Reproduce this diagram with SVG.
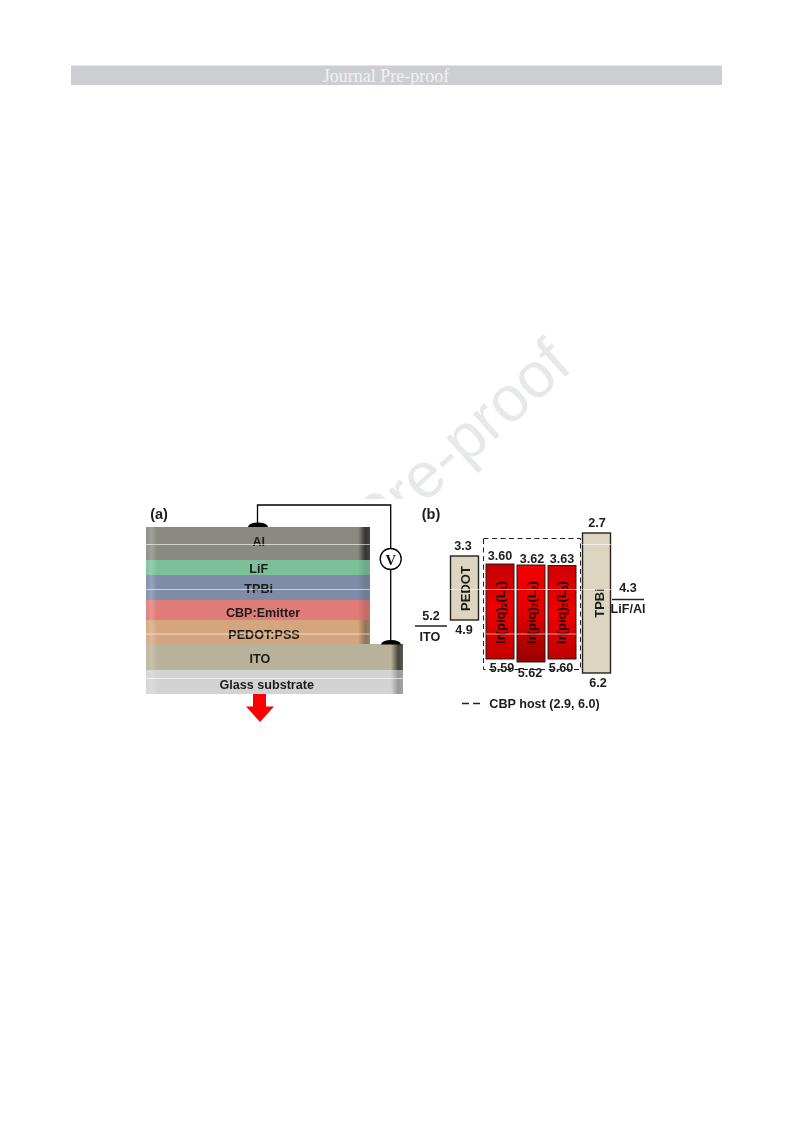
<svg xmlns="http://www.w3.org/2000/svg" width="793" height="1123" viewBox="0 0 793 1123">
<style>
.t{font-family:"Liberation Sans",Arial,sans-serif;font-weight:bold;fill:#1c1c1c;text-anchor:middle;font-size:12.6px}
.r{font-size:13px}
.w{stroke:#000;stroke-width:1.3;fill:none}
.lvl{stroke:#222;stroke-width:1.5;fill:none}
.box{fill:#dcd6c0;stroke:#222;stroke-width:1.4}
.ir{stroke:#222;stroke-width:1}
.sep{stroke:#fff;stroke-width:0.8;opacity:.75;fill:none}
.lab{fill:#200000}
</style>
<defs>
<linearGradient id="left"><stop offset="0" stop-color="#fff" stop-opacity=".06"/><stop offset=".5" stop-color="#fff" stop-opacity=".2"/><stop offset="1" stop-color="#fff" stop-opacity="0"/></linearGradient>
<linearGradient id="right"><stop offset="0" stop-color="#000" stop-opacity="0"/><stop offset=".6" stop-color="#000" stop-opacity=".62"/><stop offset="1" stop-color="#000" stop-opacity=".5"/></linearGradient>
<linearGradient id="red1" x1="0" y1="0" x2="0" y2="1"><stop offset="0" stop-color="#c40000"/><stop offset=".45" stop-color="#ec0000"/><stop offset="1" stop-color="#c80000"/></linearGradient>
<linearGradient id="red2" x1="0" y1="0" x2="0" y2="1"><stop offset="0" stop-color="#f40000"/><stop offset=".5" stop-color="#e40000"/><stop offset="1" stop-color="#960000"/></linearGradient>
<linearGradient id="red3" x1="0" y1="0" x2="0" y2="1"><stop offset="0" stop-color="#d00000"/><stop offset=".5" stop-color="#f00000"/><stop offset="1" stop-color="#c00000"/></linearGradient>
<filter id="soft" x="-5%" y="-5%" width="110%" height="110%"><feGaussianBlur stdDeviation="0.4"/></filter>
</defs>
<rect width="793" height="1123" fill="#fff"/>
<g id="watermark"><text transform="translate(376 547) rotate(-42)" font-family="'Liberation Sans',Arial,sans-serif" font-size="64" fill="#e7e8ea">Pre-proof</text></g>
<g id="header"><rect x="71" y="65.500" width="651" height="19.500" fill="#cdced1"/><text x="386" y="81.500" text-anchor="middle" font-family="'Liberation Serif','Times New Roman',serif" font-size="18" fill="#f2f2f2">Journal Pre-proof</text></g>
<rect x="140" y="499" width="515" height="230" fill="#fff"/>
<g id="figure" filter="url(#soft)">
<g id="panel-a">
<text class="t" x="159" y="519" style="font-size:14.500px">(a)</text>
<g id="layer-al"><rect x="146" y="527" width="224" height="33" fill="#8a8a82"/><rect x="358" y="527" width="12" height="33" fill="url(#right)"/><text class="t" x="258.700" y="546">Al</text></g>
<g id="layer-lif"><rect x="146" y="560" width="224" height="15" fill="#7cc09a"/><rect x="358" y="560" width="12" height="15" fill="url(#right)" opacity=".2"/><text class="t" x="258.700" y="573">LiF</text></g>
<g id="layer-tpbi"><rect x="146" y="575" width="224" height="25" fill="#7e8ca8"/><rect x="358" y="575" width="12" height="25" fill="url(#right)" opacity=".2"/><text class="t" x="258.700" y="593">TPBi</text></g>
<g id="layer-cbp"><rect x="146" y="600" width="224" height="20" fill="#e07b78"/><rect x="358" y="600" width="12" height="20" fill="url(#right)" opacity=".2"/><text class="t" x="263" y="617">CBP:Emitter</text></g>
<g id="layer-pedot"><rect x="146" y="620" width="224" height="24" fill="#d5a67e"/><rect x="358" y="620" width="12" height="24" fill="url(#right)" opacity=".5"/><text class="t" x="264" y="639">PEDOT:PSS</text></g>
<rect x="146" y="527" width="11" height="117" fill="url(#left)"/>
<g id="layer-ito"><rect x="146" y="644" width="257" height="26" fill="#b9b29b"/><rect x="391" y="644" width="12" height="26" fill="url(#right)"/><text class="t" x="260" y="663">ITO</text></g>
<g id="layer-glass"><rect x="146" y="670" width="257" height="24" fill="#d3d3d3"/><rect x="391" y="670" width="12" height="24" fill="url(#right)" opacity=".45"/><text class="t" x="266.700" y="689">Glass substrate</text></g>
<rect x="146" y="644" width="11" height="50" fill="url(#left)"/>
<g id="connectors"><path class="w" d="M257.500 524V505H390.700V548M390.700 570V643"/>
<path d="M248 527a10 4.500 0 0 1 20 0z" fill="#000"/>
<path d="M381 644.500a10 4.500 0 0 1 20 0z" fill="#000"/>
<path id="emission-arrow" d="M253 694h13v12.500h8l-14 15.500-14-15.500h7z" fill="#f00"/></g>
<g id="voltmeter"><circle cx="390.700" cy="559" r="10.500" fill="#fff" stroke="#000" stroke-width="1.300"/><text x="390.700" y="564.500" text-anchor="middle" font-family="'Liberation Serif',serif" font-weight="bold" font-size="14.500" fill="#111">V</text></g>
</g>
<g id="panel-b">
<text class="t" x="431" y="519" style="font-size:14.500px">(b)</text>
<g id="cbp-host"><rect x="483.500" y="538.500" width="97" height="131" fill="none" stroke="#222" stroke-width="1" stroke-dasharray="5 3.500"/></g>
<g id="ito"><path class="lvl" d="M415 626H447"/><text class="t" x="431" y="620">5.2</text><text class="t" x="430" y="641">ITO</text></g>
<g id="pedot"><rect class="box" x="450.500" y="556" width="28" height="64"/><text class="t r" transform="translate(470 588.500) rotate(-90)">PEDOT</text><text class="t" x="463" y="550">3.3</text><text class="t" x="464" y="634">4.9</text></g>
<g id="ir1"><rect class="ir" fill="url(#red1)" x="486" y="564" width="28" height="95"/><text class="t r lab" transform="translate(505 612.500) rotate(-90)">Ir(piq)<tspan font-size="8.500" dy="2">2</tspan><tspan dy="-2">(L</tspan><tspan font-size="8.500" dy="2">1</tspan><tspan dy="-2">)</tspan></text><text class="t" x="500" y="560">3.60</text><text class="t" x="502" y="672">5.59</text></g>
<g id="ir2"><rect class="ir" fill="url(#red2)" x="517" y="565" width="28" height="97"/><text class="t r lab" transform="translate(535.700 612.500) rotate(-90)">Ir(piq)<tspan font-size="8.500" dy="2">2</tspan><tspan dy="-2">(L</tspan><tspan font-size="8.500" dy="2">2</tspan><tspan dy="-2">)</tspan></text><text class="t" x="532" y="563">3.62</text><text class="t" x="530" y="677">5.62</text></g>
<g id="ir3"><rect class="ir" fill="url(#red3)" x="548" y="565.500" width="28" height="93.500"/><text class="t r lab" transform="translate(566 612.500) rotate(-90)">Ir(piq)<tspan font-size="8.500" dy="2">2</tspan><tspan dy="-2">(L</tspan><tspan font-size="8.500" dy="2">3</tspan><tspan dy="-2">)</tspan></text><text class="t" x="562" y="563">3.63</text><text class="t" x="561" y="672">5.60</text></g>
<g id="tpbi"><rect class="box" x="582.500" y="533" width="28" height="140"/><text class="t r" transform="translate(604 603) rotate(-90)">TPBi</text><text class="t" x="597" y="527">2.7</text><text class="t" x="598" y="687">6.2</text></g>
<g id="lif-al"><path class="lvl" d="M612 599.500H644"/><text class="t" x="628" y="592">4.3</text><text class="t" x="628" y="613">LiF/Al</text></g>
<g id="legend"><path d="M462 703.500H469M473 703.500H480" stroke="#222" stroke-width="1.300"/><text class="t" x="544.500" y="708">CBP host (2.9, 6.0)</text></g>
</g>
<g id="scan-lines"><path class="sep" d="M146 544.500H370M146 589.500H370M146 634H370M146 678.500H403M582 544.500H611M450 589.500H611M486 634H576"/></g>
</g>
</svg>
